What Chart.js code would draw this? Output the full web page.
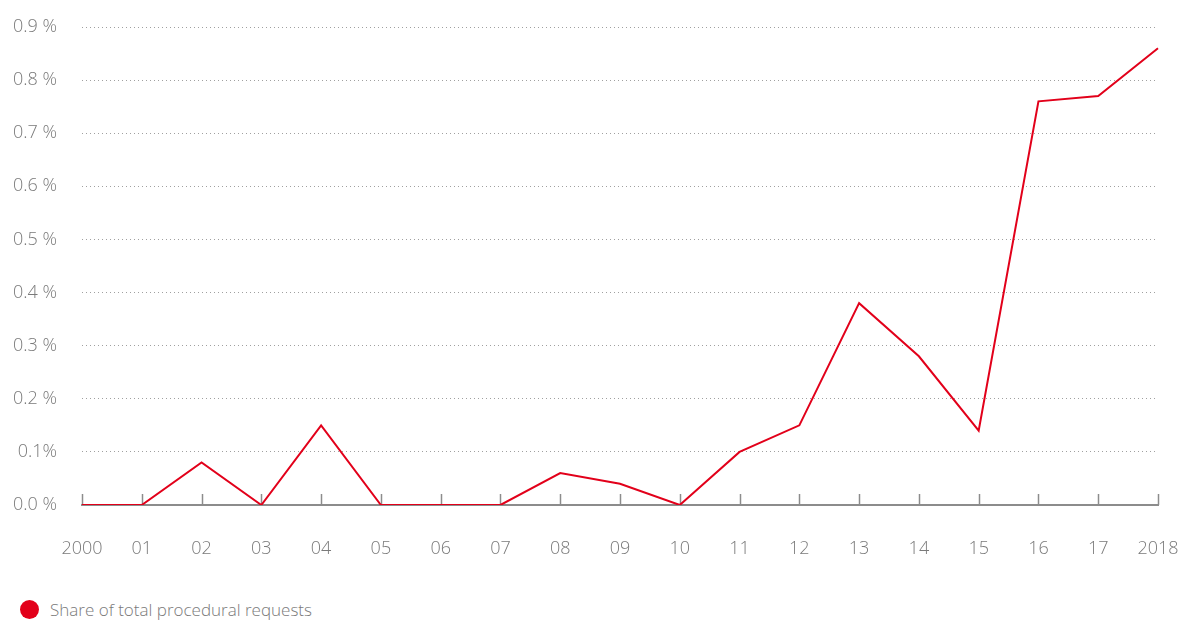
<!DOCTYPE html>
<html>
<head>
<meta charset="utf-8">
<script src="https://cdn.jsdelivr.net/npm/chart.js@4"></script>
<style>
  html, body { margin: 0; padding: 0; background: #fff; }
  #wrap { width: 1180px; height: 597px; }
  .legend {
    position: absolute; left: 20px; top: 599px; height: 20px;
    display: flex; align-items: center;
    font-family: 'Open Sans', 'Noto Sans', sans-serif; font-weight: 300;
    font-size: 17px; color: #7a7a7a;
  }
  .legend .dot {
    width: 19px; height: 19px; border-radius: 50%;
    background: #e2001a; margin-right: 11px;
  }
</style>
</head>
<body>
<div id="wrap"><canvas id="chart" width="1180" height="597"></canvas></div>
<div class="legend" id="legend"></div>
<script>
// categories (x axis) and values in percent
const years = ["2000", "01", "02", "03", "04", "05", "06", "07", "08", "09",
  "10", "11", "12", "13", "14", "15", "16", "17", "2018"];
const shareValues = [0, 0, 0.08, 0, 0.15, 0, 0, 0, 0.06, 0.04,
  0, 0.10, 0.15, 0.38, 0.28, 0.14, 0.76, 0.77, 0.86];
const yTickLabels = ["0.0 %", "0.1%", "0.2 %", "0.3 %", "0.4 %",
  "0.5 %", "0.6 %", "0.7 %", "0.8 %", "0.9 %"];
const seriesName = "Share of total procedural requests";

const RED = "#e2001a";
const GREY_TEXT = "#7a7a7a";
const FONT = "'Open Sans', 'Noto Sans', sans-serif";

// small upward tick marks on the x axis
const upTicks = {
  id: "upTicks",
  beforeDatasetsDraw(chart) {
    const x = chart.scales.x;
    const bottom = chart.chartArea.bottom;
    const ctx = chart.ctx;
    ctx.save();
    ctx.strokeStyle = "#8c8c8c";
    ctx.lineWidth = 1.5;
    x.ticks.forEach((t, i) => {
      const px = Math.round(x.getPixelForTick(i)) + 0.5;
      ctx.beginPath();
      ctx.moveTo(px, bottom - 11);
      ctx.lineTo(px, bottom);
      ctx.stroke();
    });
    ctx.restore();
  }
};

const chart = new Chart(document.getElementById("chart"), {
  type: "line",
  data: {
    labels: years,
    datasets: [{
      label: seriesName,
      data: shareValues,
      borderColor: RED,
      backgroundColor: RED,
      borderWidth: 2,
      tension: 0,
      pointRadius: 0,
      fill: false
    }]
  },
  options: {
    responsive: false,
    animation: false,
    layout: { padding: { left: 0, right: 22, top: 27, bottom: 0 } },
    plugins: {
      tooltip: { enabled: false },
      legend: { display: false }
    },
    scales: {
      x: {
        type: "category",
        offset: false,
        grid: { display: false, drawTicks: false },
        border: { display: true, color: "#8c8c8c", width: 2 },
        ticks: {
          color: GREY_TEXT,
          padding: 33,
          maxRotation: 0,
          autoSkip: false,
          font: { family: FONT, size: 18, weight: 300 }
        },
        afterFit(scale) {
          scale.height = 92;
          // tick padding would otherwise push the plot in from the edges
          scale.paddingLeft = 0;
          scale.paddingRight = 0;
        }
      },
      y: {
        min: 0,
        max: 0.9,
        grid: {
          color: "#a0a0a0",
          lineWidth: 1,
          drawTicks: false
        },
        border: { display: false, dash: [1, 3] },
        ticks: {
          stepSize: 0.1,
          color: GREY_TEXT,
          padding: 25,
          font: { family: FONT, size: 18, weight: 300 },
          callback: (v, i) => yTickLabels[i]
        },
        afterFit(scale) {
          scale.width = 82;
          scale.paddingTop = 0;
          scale.paddingBottom = 0;
        }
      }
    }
  },
  plugins: [upTicks]
});

// html legend built from the dataset
const legend = document.getElementById("legend");
chart.data.datasets.forEach(ds => {
  const dot = document.createElement("span");
  dot.className = "dot";
  dot.style.background = ds.borderColor;
  const txt = document.createElement("span");
  txt.textContent = ds.label;
  legend.appendChild(dot);
  legend.appendChild(txt);
});
</script>
</body>
</html>
